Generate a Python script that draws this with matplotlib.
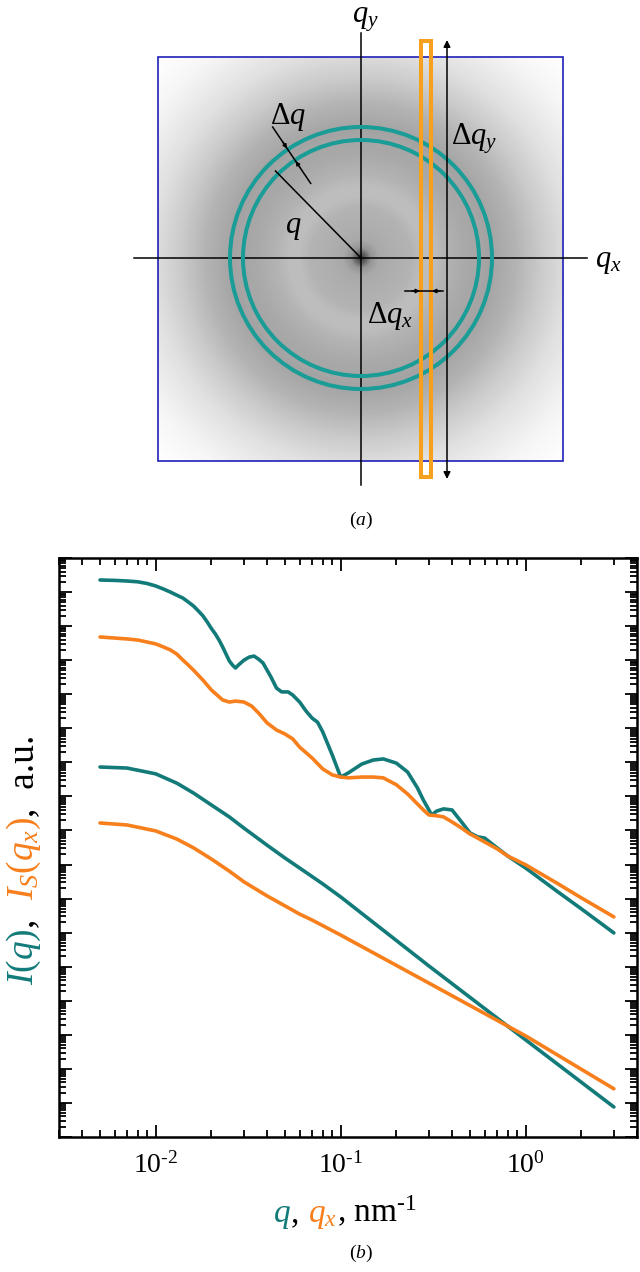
import numpy as np
import matplotlib
matplotlib.use("Agg")
import matplotlib.pyplot as plt
from matplotlib.patches import Rectangle, Circle
from matplotlib.ticker import LogLocator, NullFormatter, FuncFormatter

plt.rcParams["font.family"] = "Liberation Serif"
plt.rcParams["mathtext.fontset"] = "custom"
plt.rcParams["mathtext.rm"] = "Liberation Serif"
plt.rcParams["mathtext.it"] = "Liberation Serif:italic"

# ---- panel (b) data ----
q_mono = [0.005, 0.006, 0.007, 0.008, 0.009, 0.01, 0.011, 0.012, 0.013, 0.014,
          0.015, 0.016, 0.017, 0.018, 0.019, 0.02, 0.021, 0.022, 0.023, 0.024,
          0.025, 0.026, 0.027, 0.028, 0.03, 0.032, 0.034, 0.036, 0.038, 0.04,
          0.042, 0.045, 0.048, 0.052, 0.055, 0.06, 0.065, 0.07, 0.075, 0.08,
          0.09, 0.1, 0.11, 0.13, 0.15, 0.17, 0.2, 0.23, 0.26, 0.28,
          0.3, 0.31, 0.33, 0.36, 0.4, 0.45, 0.5, 0.55, 0.6, 0.7,
          0.8, 1.0, 1.5, 2.0, 3.0]
I_mono = [2.26e16, 2.2e16, 2.11e16, 2.0e16, 1.78e16, 1.51e16, 1.23e16, 1.0e16, 8.1e15, 6.7e15,
          5.1e15, 3.9e15, 2.8e15, 2.0e15, 1.32e15, 8.5e14, 5.9e14, 3.9e14, 2.45e14, 1.51e14,
          9.5e13, 7.2e13, 5.9e13, 7.2e13, 1.0e14, 1.23e14, 1.32e14, 1.07e14, 8.3e13, 5.1e13,
          3.2e13, 1.51e13, 1.17e13, 1.17e13, 9.5e12, 5.9e12, 3.2e12, 2.0e12, 1.51e12, 7.8e11,
          1.66e11, 3.7e10, 4.9e10, 8.9e10, 1.17e11, 1.26e11, 9.5e10, 5.2e10, 1.78e10, 7.8e9,
          4.0e9, 2.85e9, 3.7e9, 4.3e9, 4.0e9, 1.78e9, 8.5e8, 6.5e8, 6.0e8, 3.1e8,
          1.78e8, 7.9e7, 1.55e7, 5.0e6, 9.8e5]

qx_mono = [0.005, 0.007, 0.008, 0.009, 0.01, 0.011, 0.012, 0.013, 0.014, 0.015,
           0.016, 0.018, 0.02, 0.023, 0.025, 0.027, 0.03, 0.033, 0.036, 0.04,
           0.045, 0.05, 0.055, 0.06, 0.07, 0.08, 0.09, 0.1, 0.11, 0.13,
           0.15, 0.17, 0.2, 0.23, 0.26, 0.28, 0.3, 0.33, 0.36, 0.4,
           0.45, 0.5, 0.55, 0.6, 0.7, 0.8, 1.0, 1.5, 2.0, 3.0]
Is_mono = [4.8e14, 4.2e14, 3.9e14, 3.4e14, 3.0e14, 2.45e14, 2.0e14, 1.51e14, 1.02e14, 7.2e13,
           5.1e13, 2.6e13, 1.33e13, 6.8e12, 5.9e12, 6.3e12, 5.9e12, 4.5e12, 2.8e12, 1.44e12,
           8.9e11, 6.8e11, 4.9e11, 2.8e11, 1.35e11, 6.4e10, 4.3e10, 3.7e10, 3.5e10, 3.7e10,
           3.7e10, 3.5e10, 2.2e10, 1.18e10, 6.0e9, 4.0e9, 2.85e9, 2.7e9, 2.5e9, 1.78e9,
           1.18e9, 7.9e8, 6.0e8, 4.6e8, 2.9e8, 1.78e8, 9.8e7, 2.7e7, 1.05e7, 2.9e6]

q_poly = [0.005, 0.007, 0.01, 0.013, 0.016, 0.02, 0.025, 0.03, 0.04, 0.05,
          0.06, 0.08, 0.1, 0.3, 1.0, 3.0]
I_poly = [7.3e10, 6.8e10, 4.6e10, 2.45e10, 1.26e10, 5.6e9, 2.5e9, 1.17e9, 3.7e8, 1.55e8,
          7.9e7, 2.7e7, 1.12e7, 1.05e5, 7.1e2, 7.6]

qx_poly = [0.005, 0.007, 0.01, 0.013, 0.016, 0.02, 0.025, 0.03, 0.04, 0.05,
           0.06, 0.07, 0.1, 0.3, 1.0, 3.0]
Is_poly = [1.66e9, 1.45e9, 9.7e8, 5.6e8, 3.1e8, 1.45e8, 6.4e7, 3.1e7, 1.2e7, 6.1e6,
           3.5e6, 2.35e6, 8.5e5, 3.3e4, 9.3e2, 26]

teal = "#127b79"
orange = "#f77f1c"
teal_a = "#1a9c97"
orange_a = "#f7a01d"

fig = plt.figure(figsize=(6.4, 12.72), dpi=100)
W, H = 640, 1272

# ---- panel (a): schematic drawn in pixel units ----
ax_a = fig.add_axes([0, 0, 1, 1])
ax_a.set_axis_off()

cx, cy = 361, 258
x0, y0, x1, y1 = 158, 57, 563, 461

# radial grey profile of the detector image
prof_r = [0, 4, 10, 18, 30, 50, 62, 72, 85, 105, 130, 155, 180, 210, 250, 290]
prof_g = [0.22, 0.35, 0.58, 0.66, 0.68, 0.70, 0.74, 0.74, 0.70, 0.66, 0.64, 0.70, 0.79, 0.88, 0.96, 1.0]
gx = np.linspace(x0, x1, 405)
gy = np.linspace(y0, y1, 404)
GX, GY = np.meshgrid(gx, gy)
R = np.hypot(GX - cx, GY - cy)
img = np.interp(R, prof_r, prof_g)
ax_a.imshow(img, cmap="gray", vmin=0, vmax=1, extent=(x0, x1, y1, y0),
            origin="upper", interpolation="bilinear", aspect="auto", zorder=1)
ax_a.add_patch(Rectangle((x0, y0), x1 - x0, y1 - y0, fill=False, ec="#2020b8", lw=1.2, zorder=2))

ax_a.plot([134, 587], [cy, cy], color="k", lw=1.1, zorder=3)
ax_a.plot([cx, cx], [33, 485], color="k", lw=1.1, zorder=3)

for r in (131, 118):
    ax_a.add_patch(Circle((cx, cy), r, fill=False, ec=teal_a, lw=2.9, zorder=4))


def polar(r, a):
    return cx + r * np.cos(a), cy - r * np.sin(a)


# radius q
ang = np.deg2rad(134.5)
px, py = polar(122, ang)
ax_a.plot([cx, px], [cy, py], color="k", lw=1.1, zorder=5)

# delta q marker across both rings
ang2 = np.deg2rad(124)
pa, pb = polar(158, ang2), polar(90, ang2)
ax_a.plot([pa[0], pb[0]], [pa[1], pb[1]], color="k", lw=1.1, zorder=5)
head = dict(arrowstyle="-|>", color="k", lw=1.0, mutation_scale=6, shrinkA=0, shrinkB=0)
ax_a.annotate("", xy=polar(132, ang2), xytext=polar(140, ang2), arrowprops=head, zorder=5)
ax_a.annotate("", xy=polar(117, ang2), xytext=polar(109, ang2), arrowprops=head, zorder=5)

# slit
ax_a.add_patch(Rectangle((421, 41), 10, 436, fill=False, ec=orange_a, lw=2.9, zorder=6))
ax_a.annotate("", xy=(447, 40), xytext=(447, 479),
              arrowprops=dict(arrowstyle="<|-|>", color="k", lw=1.1, mutation_scale=10,
                              shrinkA=0, shrinkB=0), zorder=6)
ax_a.plot([405, 443], [291, 291], color="k", lw=1.1, zorder=7)
ax_a.annotate("", xy=(420, 291), xytext=(412, 291), arrowprops=head, zorder=7)
ax_a.annotate("", xy=(432, 291), xytext=(440, 291), arrowprops=head, zorder=7)

fs_a = 22
ax_a.text(365, 20, "$q_y$", fontsize=fs_a, ha="center", va="center", zorder=8)
ax_a.text(608, 262, "$q_x$", fontsize=fs_a, ha="center", va="center", zorder=8)
ax_a.text(288, 117, r"$\Delta q$", fontsize=fs_a, ha="center", va="center", zorder=8)
ax_a.text(293, 228, "$q$", fontsize=fs_a, ha="center", va="center", zorder=8)
ax_a.text(474, 139, r"$\Delta q_y$", fontsize=fs_a, ha="center", va="center", zorder=8)
ax_a.text(390, 316, r"$\Delta q_x$", fontsize=fs_a, ha="center", va="center", zorder=8)
ax_a.text(361, 520, "($a$)", fontsize=14, ha="center", va="center", zorder=8)
ax_a.text(361, 1253, "($b$)", fontsize=14, ha="center", va="center", zorder=8)

ax_a.set_xlim(0, W)
ax_a.set_ylim(H, 0)

# ---- panel (b) ----
ax = fig.add_axes([59 / W, 1 - 1137 / H, (637 - 59) / W, (1137 - 558) / H])
lw = 2.6
ax.loglog(q_mono, I_mono, color=teal, lw=lw, solid_capstyle="round", solid_joinstyle="round")
ax.loglog(qx_mono, Is_mono, color=orange, lw=lw, solid_capstyle="round", solid_joinstyle="round")
ax.loglog(q_poly, I_poly, color=teal, lw=lw, solid_capstyle="round", solid_joinstyle="round")
ax.loglog(qx_poly, Is_poly, color=orange, lw=lw, solid_capstyle="round", solid_joinstyle="round")
ax.set_xlim(0.003, 4)
ax.set_ylim(1, 1e17)


def dec_label(v, pos):
    e = int(round(np.log10(v)))
    s = "\u2010" + str(-e) if e < 0 else str(e)
    return "10$^{\\mathrm{%s}}$" % s


ax.xaxis.set_major_locator(LogLocator(base=10, numticks=10))
ax.xaxis.set_minor_locator(LogLocator(base=10, subs=np.arange(2, 10), numticks=50))
ax.xaxis.set_major_formatter(FuncFormatter(dec_label))
ax.yaxis.set_major_locator(LogLocator(base=10, numticks=40))
ax.yaxis.set_minor_locator(LogLocator(base=10, subs=np.arange(2, 10), numticks=400))
ax.yaxis.set_major_formatter(NullFormatter())
ax.yaxis.set_minor_formatter(NullFormatter())
ax.tick_params(which="both", direction="in", top=True, right=True, width=1.3)
ax.tick_params(which="major", length=9, labelsize=20, pad=11)
ax.tick_params(which="minor", length=5)
for s in ax.spines.values():
    s.set_linewidth(1.8)


def chain(pieces, start, vertical, size):
    prev = None
    for txt, col in pieces:
        if prev is None:
            kw = dict(xy=start, xycoords="figure pixels")
        elif vertical:
            kw = dict(xy=(start[0], 1), xycoords=("figure pixels", prev))
        else:
            kw = dict(xy=(1, start[1]), xycoords=(prev, "figure pixels"))
        prev = ax_a.annotate(txt, color=col, fontsize=size, ha="left", va="baseline",
                             rotation=90 if vertical else 0, rotation_mode="anchor",
                             annotation_clip=False, **kw)


chain([("$I(q)$", teal), (",  ", "k"), ("$I_S(q_x)$", orange), (",  a.u.", "k")],
      (33, H - 985), True, 27)
chain([("$q$", teal), (", ", "k"), ("$q_x$", orange), (", nm$^{\\mathrm{\u2010}1}$", "k")],
      (273, H - 1222), False, 24)

fig.savefig("out.png", dpi=100)
